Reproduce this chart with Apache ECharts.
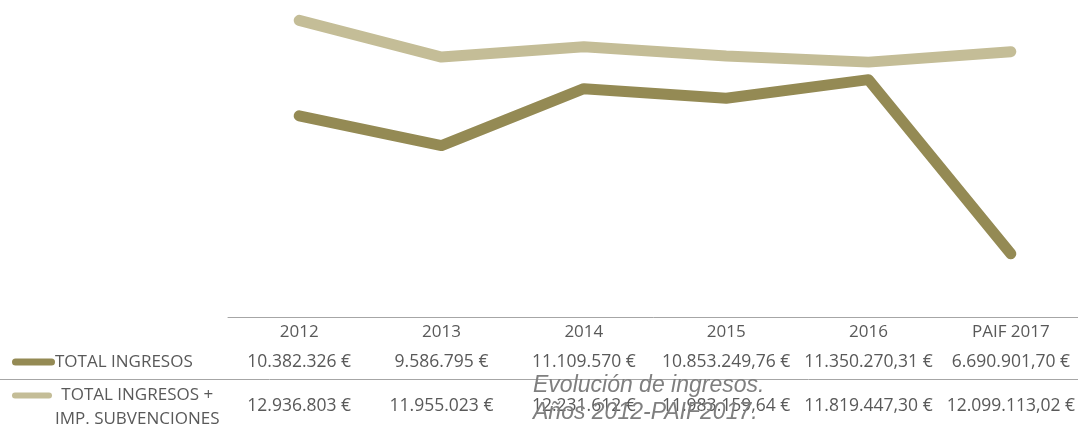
<!DOCTYPE html>
<html>
<head>
<meta charset="utf-8">
<script src="https://cdn.jsdelivr.net/npm/echarts@6/dist/echarts.min.js"></script>
<style>
  html, body { margin: 0; padding: 0; background: #ffffff; }
  #chart { width: 1078px; height: 426px; }
</style>
</head>
<body>
<div id="chart"></div>
<script>
// Income by year (euros)
const years = ['2012', '2013', '2014', '2015', '2016', 'PAIF 2017'];
const totalIngresos = [10382326, 9586795, 11109570, 10853249.76, 11350270.31, 6690901.70];
const totalConSubvenciones = [12936803, 11955023, 12231612, 11983159.64, 11819447.30, 12099113.02];
const seriesNames = ['TOTAL INGRESOS', 'TOTAL INGRESOS + IMP. SUBVENCIONES'];
const titleText = 'Evolución de ingresos.\nAños 2012-PAIF2017.';

const darkColor = '#948A54';
const lightColor = '#C4BD97';
const textColor = '#595959';
const tableFont = '"Open Sans", sans-serif';

// Spanish number format: dots for thousands, comma for decimals
function euro(v) {
  const hasDecimals = Math.round(v * 100) % 100 !== 0;
  const parts = v.toFixed(hasDecimals ? 2 : 0).split('.');
  const intPart = parts[0].replace(/\B(?=(\d{3})+(?!\d))/g, '.');
  return (parts.length > 1 ? intPart + ',' + parts[1] : intPart) + ' €';
}

const chart = echarts.init(document.getElementById('chart'), null, { renderer: 'canvas' });

chart.setOption({
  animation: false,
  backgroundColor: '#ffffff',
  title: {
    text: titleText,
    left: 533,
    top: 372,
    padding: 0,
    textStyle: {
      fontFamily: '"Liberation Sans", Arial, sans-serif',
      fontStyle: 'italic',
      fontWeight: 'normal',
      fontSize: 23,
      lineHeight: 27,
      color: '#7f7f7f'
    },
    z: 10
  },
  legend: [
    {
      data: [seriesNames[0]],
      left: 12,
      top: 353.5,
      padding: 0,
      selectedMode: false,
      itemWidth: 43,
      itemHeight: 7,
      symbolKeepAspect: false,
      icon: 'path://M3.5,0L39.5,0A3.5,3.5,0,0,1,39.5,7L3.5,7A3.5,3.5,0,0,1,3.5,0Z',
      textStyle: {
        fontFamily: tableFont,
        fontSize: 17,
        color: textColor,
        padding: [0, 0, 0, -5]
      }
    },
    {
      data: [seriesNames[1]],
      left: 12,
      top: 387,
      padding: 0,
      selectedMode: false,
      itemWidth: 40,
      itemHeight: 6,
      symbolKeepAspect: false,
      icon: 'path://M3,0L37,0A3,3,0,0,1,37,6L3,6A3,3,0,0,1,3,0Z',
      formatter: function (name) {
        return '{c|' + name.replace('+ ', '+}\n{c|') + '}';
      },
      textStyle: {
        fontFamily: tableFont,
        fontSize: 17,
        color: textColor,
        padding: [24, 0, 0, -2],
        rich: {
          c: {
            fontFamily: tableFont,
            fontSize: 17,
            color: textColor,
            lineHeight: 24,
            align: 'center'
          }
        }
      }
    }
  ],
  grid: {
    left: 228,
    top: 18,
    width: 854,
    height: 299,
    containLabel: false,
    outerBoundsMode: 'none'
  },
  xAxis: {
    type: 'category',
    data: years,
    boundaryGap: true,
    axisLine: { show: true, lineStyle: { color: '#a6a6a6', width: 1 } },
    axisTick: { show: false },
    splitLine: { show: false },
    axisLabel: {
      interval: 0,
      margin: 0,
      hideOverlap: false,
      formatter: function (value, index) {
        return '{y|' + value + '}\n{a|' + euro(totalIngresos[index]) + '}\n{b|' + euro(totalConSubvenciones[index]) + '}';
      },
      rich: {
        y: { fontFamily: tableFont, fontSize: 17, color: textColor, lineHeight: 30 },
        a: { fontFamily: tableFont, fontSize: 17.5, color: textColor, lineHeight: 30 },
        b: { fontFamily: tableFont, fontSize: 17.5, color: textColor, lineHeight: 59 }
      }
    }
  },
  yAxis: {
    type: 'value',
    min: 5000000,
    max: 13000000,
    show: false,
    splitLine: { show: false }
  },
  graphic: [
    {
      type: 'line',
      shape: { x1: 0, y1: 379.5, x2: 1078, y2: 379.5 },
      style: { stroke: '#a6a6a6', lineWidth: 1 },
      silent: true
    }
  ],
  series: [
    {
      name: seriesNames[1],
      type: 'line',
      data: totalConSubvenciones,
      symbol: 'none',
      color: lightColor,
      lineStyle: { color: lightColor, width: 11, cap: 'round', join: 'round' }
    },
    {
      name: seriesNames[0],
      type: 'line',
      data: totalIngresos,
      symbol: 'none',
      color: darkColor,
      lineStyle: { color: darkColor, width: 11, cap: 'round', join: 'round' }
    }
  ]
});
</script>
</body>
</html>
